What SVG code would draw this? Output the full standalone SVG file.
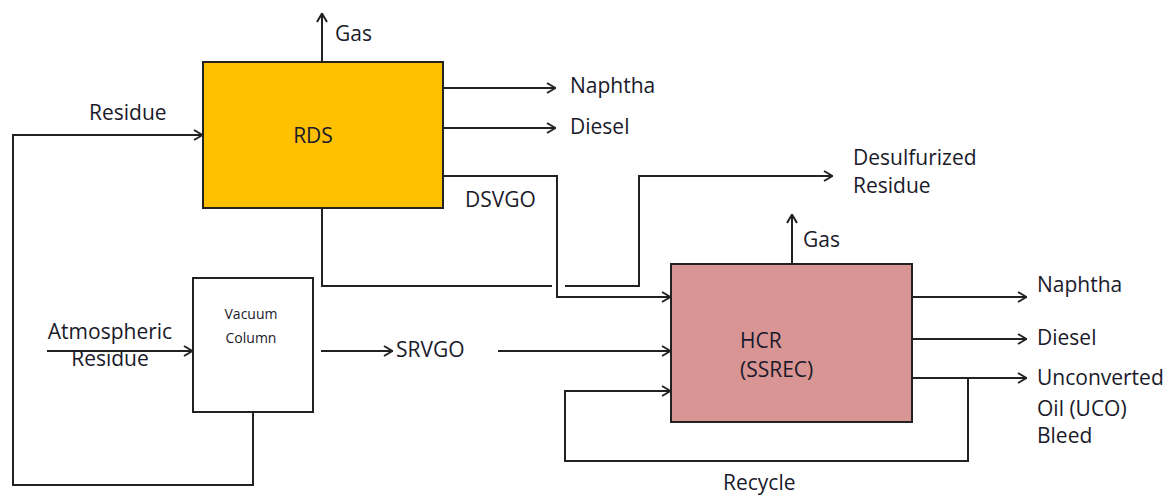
<svg xmlns="http://www.w3.org/2000/svg" width="1173" height="496" viewBox="0 0 1173 496">
<style>
.t{font-family:"Open Sans","Liberation Sans",sans-serif;font-size:21px;fill:#1a1a2a}
.s{font-size:14px}
.ln{fill:none;stroke:#222;stroke-width:2}
.box{stroke:#222;stroke-width:2}
</style>
<defs>
<marker id="ah" markerUnits="userSpaceOnUse" viewBox="0 0 10 12" refX="10" refY="6" markerWidth="10" markerHeight="12" orient="auto">
<path d="M1,1 L9.5,6 L1,11" fill="none" stroke="#222" stroke-width="2"/>
</marker>
</defs>
<rect width="1173" height="496" fill="#fff"/>
<g id="connectors">
<path class="ln" d="M322,62 V13" marker-end="url(#ah)"/>
<path class="ln" d="M443,88 H556" marker-end="url(#ah)"/>
<path class="ln" d="M443,128 H556" marker-end="url(#ah)"/>
<path class="ln" d="M443,176 H557 V297 H671" marker-end="url(#ah)"/>
<path class="ln" d="M322,208 V286 H552 M565,286 H639 V176 H833" marker-end="url(#ah)"/>
<path class="ln" d="M253,412 V485 H13 V135 H203" marker-end="url(#ah)"/>
<path class="ln" d="M47,351 H193" marker-end="url(#ah)"/>
<path class="ln" d="M321,351 H393" marker-end="url(#ah)"/>
<path class="ln" d="M498,351 H671" marker-end="url(#ah)"/>
<path class="ln" d="M792,264 V214" marker-end="url(#ah)"/>
<path class="ln" d="M912,297 H1027" marker-end="url(#ah)"/>
<path class="ln" d="M912,339 H1027" marker-end="url(#ah)"/>
<path class="ln" d="M912,378 H1027" marker-end="url(#ah)"/>
<path class="ln" d="M968,378 V461 H565 V391 H671" marker-end="url(#ah)"/>
</g>
<g id="rds">
<rect class="box" x="203" y="62" width="240" height="146" fill="#FFC000"/>
<text class="t" x="313" y="143" text-anchor="middle">RDS</text>
</g>
<g id="vacuum-column">
<rect class="box" x="193" y="278" width="120" height="134" fill="#fff"/>
<text class="t s" x="251" y="319" text-anchor="middle">Vacuum</text>
<text class="t s" x="251" y="343" text-anchor="middle">Column</text>
</g>
<g id="hcr">
<rect class="box" x="671" y="264" width="241" height="158" fill="#D99594"/>
<text class="t" x="740" y="348">HCR</text>
<text class="t" x="740" y="377">(SSREC)</text>
</g>
<g id="labels">
<text class="t" x="335" y="41">Gas</text>
<text class="t" x="89" y="120">Residue</text>
<text class="t" x="570" y="93">Naphtha</text>
<text class="t" x="570" y="134">Diesel</text>
<text class="t" x="465" y="207">DSVGO</text>
<text class="t" x="853" y="165">Desulfurized</text>
<text class="t" x="853" y="193">Residue</text>
<text class="t" x="110" y="339" text-anchor="middle">Atmospheric</text>
<text class="t" x="110" y="366" text-anchor="middle">Residue</text>
<text class="t" x="396" y="357">SRVGO</text>
<text class="t" x="803" y="247">Gas</text>
<text class="t" x="1037" y="292">Naphtha</text>
<text class="t" x="1037" y="345">Diesel</text>
<text class="t" x="1037" y="385">Unconverted</text>
<text class="t" x="1037" y="416">Oil (UCO)</text>
<text class="t" x="1037" y="443">Bleed</text>
<text class="t" x="723" y="490">Recycle</text>
</g>
</svg>
